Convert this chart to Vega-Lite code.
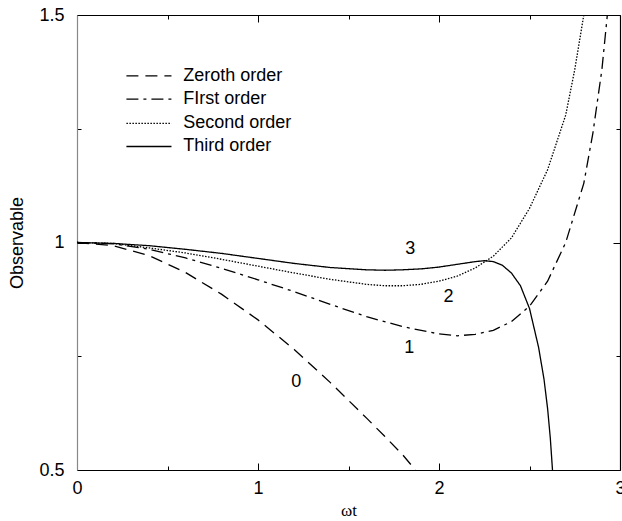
{
  "$schema": "https://vega.github.io/schema/vega-lite/v6.json",
  "width": 543,
  "height": 455,
  "autosize": {"type": "none"},
  "padding": {"left": 77, "top": 15, "right": 2, "bottom": 51},
  "background": "white",
  "config": {
    "view": {"stroke": null},
    "font": "Liberation Sans",
    "axis": {"labelFont": "Liberation Sans", "titleFont": "Liberation Sans", "labelColor": "black", "titleColor": "black", "titleFontWeight": "normal", "grid": false}
  },
  "datasets": {
    "curves": [
      {"order": "Zeroth order", "x": 0, "y": 1},
      {"order": "Zeroth order", "x": 0.2, "y": 0.993},
      {"order": "Zeroth order", "x": 0.4, "y": 0.971},
      {"order": "Zeroth order", "x": 0.6, "y": 0.934},
      {"order": "Zeroth order", "x": 0.8, "y": 0.886},
      {"order": "Zeroth order", "x": 1.0, "y": 0.83},
      {"order": "Zeroth order", "x": 1.2, "y": 0.765},
      {"order": "Zeroth order", "x": 1.4, "y": 0.692},
      {"order": "Zeroth order", "x": 1.6, "y": 0.614},
      {"order": "Zeroth order", "x": 1.7, "y": 0.574},
      {"order": "Zeroth order", "x": 1.8, "y": 0.533},
      {"order": "Zeroth order", "x": 1.87, "y": 0.5},
      {"order": "First order", "x": 0, "y": 1},
      {"order": "First order", "x": 0.2, "y": 0.997},
      {"order": "First order", "x": 0.4, "y": 0.985},
      {"order": "First order", "x": 0.6, "y": 0.966},
      {"order": "First order", "x": 0.8, "y": 0.943},
      {"order": "First order", "x": 1.0, "y": 0.918},
      {"order": "First order", "x": 1.2, "y": 0.892},
      {"order": "First order", "x": 1.4, "y": 0.864},
      {"order": "First order", "x": 1.6, "y": 0.837},
      {"order": "First order", "x": 1.8, "y": 0.815},
      {"order": "First order", "x": 2.0, "y": 0.799},
      {"order": "First order", "x": 2.1, "y": 0.795},
      {"order": "First order", "x": 2.2, "y": 0.798},
      {"order": "First order", "x": 2.3, "y": 0.807},
      {"order": "First order", "x": 2.4, "y": 0.826},
      {"order": "First order", "x": 2.5, "y": 0.86},
      {"order": "First order", "x": 2.6, "y": 0.915},
      {"order": "First order", "x": 2.7, "y": 1.0},
      {"order": "First order", "x": 2.8, "y": 1.13},
      {"order": "First order", "x": 2.85, "y": 1.24},
      {"order": "First order", "x": 2.9, "y": 1.38},
      {"order": "First order", "x": 2.93, "y": 1.5},
      {"order": "Second order", "x": 0, "y": 1},
      {"order": "Second order", "x": 0.2, "y": 0.998},
      {"order": "Second order", "x": 0.4, "y": 0.988},
      {"order": "Second order", "x": 0.6, "y": 0.977},
      {"order": "Second order", "x": 0.8, "y": 0.963},
      {"order": "Second order", "x": 1.0, "y": 0.948},
      {"order": "Second order", "x": 1.2, "y": 0.933},
      {"order": "Second order", "x": 1.4, "y": 0.919},
      {"order": "Second order", "x": 1.6, "y": 0.908},
      {"order": "Second order", "x": 1.7, "y": 0.905},
      {"order": "Second order", "x": 1.8, "y": 0.905},
      {"order": "Second order", "x": 1.9, "y": 0.908},
      {"order": "Second order", "x": 2.0, "y": 0.915},
      {"order": "Second order", "x": 2.1, "y": 0.926},
      {"order": "Second order", "x": 2.2, "y": 0.944},
      {"order": "Second order", "x": 2.3, "y": 0.97},
      {"order": "Second order", "x": 2.4, "y": 1.01},
      {"order": "Second order", "x": 2.5, "y": 1.075},
      {"order": "Second order", "x": 2.6, "y": 1.16},
      {"order": "Second order", "x": 2.7, "y": 1.28},
      {"order": "Second order", "x": 2.75, "y": 1.38},
      {"order": "Second order", "x": 2.8, "y": 1.5},
      {"order": "Third order", "x": 0, "y": 1},
      {"order": "Third order", "x": 0.2, "y": 0.998},
      {"order": "Third order", "x": 0.4, "y": 0.993},
      {"order": "Third order", "x": 0.6, "y": 0.985},
      {"order": "Third order", "x": 0.8, "y": 0.976},
      {"order": "Third order", "x": 1.0, "y": 0.965},
      {"order": "Third order", "x": 1.2, "y": 0.954},
      {"order": "Third order", "x": 1.4, "y": 0.945},
      {"order": "Third order", "x": 1.6, "y": 0.94},
      {"order": "Third order", "x": 1.7, "y": 0.939},
      {"order": "Third order", "x": 1.8, "y": 0.94},
      {"order": "Third order", "x": 1.9, "y": 0.942},
      {"order": "Third order", "x": 2.0, "y": 0.946},
      {"order": "Third order", "x": 2.1, "y": 0.952},
      {"order": "Third order", "x": 2.2, "y": 0.958},
      {"order": "Third order", "x": 2.25, "y": 0.96},
      {"order": "Third order", "x": 2.3, "y": 0.958},
      {"order": "Third order", "x": 2.35, "y": 0.95},
      {"order": "Third order", "x": 2.4, "y": 0.933},
      {"order": "Third order", "x": 2.45, "y": 0.905},
      {"order": "Third order", "x": 2.5, "y": 0.855},
      {"order": "Third order", "x": 2.55, "y": 0.77},
      {"order": "Third order", "x": 2.58, "y": 0.7},
      {"order": "Third order", "x": 2.6, "y": 0.635},
      {"order": "Third order", "x": 2.615, "y": 0.57},
      {"order": "Third order", "x": 2.627, "y": 0.5}
    ],
    "legend": [
      {"order": "Zeroth order", "ly": 1.366},
      {"order": "First order", "ly": 1.315},
      {"order": "Second order", "ly": 1.262},
      {"order": "Third order", "ly": 1.211}
    ],
    "legendText": [
      {"label": "Zeroth order", "ly": 1.366},
      {"label": "FIrst order", "ly": 1.315},
      {"label": "Second order", "ly": 1.262},
      {"label": "Third order", "ly": 1.211}
    ],
    "curveLabels": [
      {"lab": "0", "lx": 1.211, "ly": 0.694},
      {"lab": "1", "lx": 1.836, "ly": 0.769},
      {"lab": "2", "lx": 2.053, "ly": 0.881},
      {"lab": "3", "lx": 1.841, "ly": 0.985}
    ]
  },
  "resolve": {"axis": {"x": "independent", "y": "independent"}},
  "layer": [
    {
      "data": {"name": "curves"},
      "mark": {"type": "line", "color": "black", "strokeWidth": 1.3, "clip": true},
      "encoding": {
        "x": {"field": "x", "type": "quantitative", "title": "ωt",
          "scale": {"domain": [0, 3], "nice": false, "zero": false},
          "axis": {"orient": "bottom", "values": [0, 0.5, 1, 1.5, 2, 2.5, 3],
            "labelExpr": "datum.value % 1 === 0 ? '' + datum.value : ''",
            "tickSize": {"condition": {"test": "datum.value % 1 === 0", "value": -7}, "value": -4},
            "tickColor": "black", "tickWidth": 1, "domainColor": "black", "domainWidth": 1.2,
            "labelFontSize": 18, "labelPadding": 16, "labelFlush": false,
            "titleFont": "Liberation Serif", "titleFontSize": 17, "titlePadding": 5}},
        "y": {"field": "y", "type": "quantitative", "title": "Observable",
          "scale": {"domain": [0.5, 1.5], "nice": false, "zero": false},
          "axis": {"orient": "left", "values": [0.5, 0.75, 1, 1.25, 1.5],
            "labelExpr": "(datum.value * 2) % 1 === 0 ? '' + datum.value : ''",
            "tickSize": {"condition": {"test": "(datum.value * 2) % 1 === 0", "value": -7}, "value": -4},
            "tickColor": "black", "tickWidth": 1, "domainColor": "#888888", "domainWidth": 1.2,
            "labelFontSize": 18, "labelPadding": 20, "labelFlush": false,
            "titleFontSize": 18, "titlePadding": 12}},
        "strokeDash": {"field": "order", "type": "nominal", "legend": null,
          "scale": {"domain": ["Zeroth order", "First order", "Second order", "Third order"],
            "range": [[12, 7], [12, 5, 3, 5], [1.5, 1.5], [1, 0]]}},
        "detail": {"field": "order"},
        "order": {"field": "x", "type": "quantitative"}
      }
    },
    {
      "data": {"name": "legend"},
      "mark": {"type": "rule", "color": "black", "strokeWidth": 1.3},
      "encoding": {
        "x": {"datum": 0.273, "type": "quantitative", "axis": null},
        "x2": {"datum": 0.522},
        "y": {"field": "ly", "type": "quantitative", "axis": null},
        "strokeDash": {"field": "order", "type": "nominal", "legend": null}
      }
    },
    {
      "data": {"name": "legendText"},
      "mark": {"type": "text", "align": "left", "baseline": "middle", "fontSize": 18, "font": "Liberation Sans", "color": "black"},
      "encoding": {
        "x": {"datum": 0.587, "type": "quantitative", "axis": null},
        "y": {"field": "ly", "type": "quantitative", "axis": null},
        "text": {"field": "label"}
      }
    },
    {
      "data": {"name": "curveLabels"},
      "mark": {"type": "text", "align": "center", "baseline": "middle", "fontSize": 18, "font": "Liberation Sans", "color": "black"},
      "encoding": {
        "x": {"field": "lx", "type": "quantitative",
          "axis": {"orient": "top", "values": [0, 0.5, 1, 1.5, 2, 2.5, 3], "labels": false, "title": null,
            "tickSize": {"condition": {"test": "datum.value % 1 === 0", "value": -7}, "value": -4},
            "tickColor": "black", "domainColor": "black", "domainWidth": 1.2}},
        "y": {"field": "ly", "type": "quantitative",
          "axis": {"orient": "right", "values": [0.5, 0.75, 1, 1.25, 1.5], "labels": false, "title": null,
            "tickSize": {"condition": {"test": "(datum.value * 2) % 1 === 0", "value": -7}, "value": -4},
            "tickColor": "black", "domainColor": "black", "domainWidth": 1.2}},
        "text": {"field": "lab"}
      }
    }
  ]
}
